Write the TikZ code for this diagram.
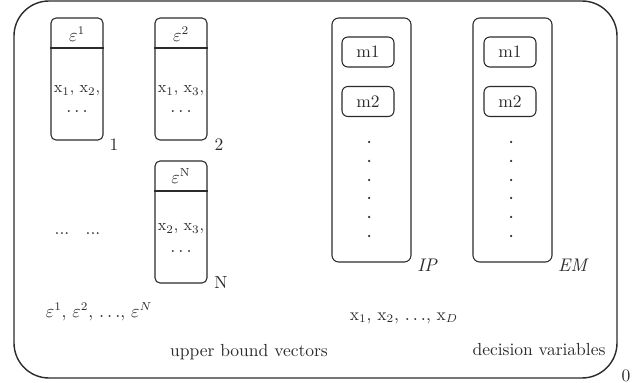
\documentclass[tikz,border=0pt]{standalone}
\usepackage{amsmath}
\begin{document}
\definecolor{ink}{HTML}{2B2B2B}
\begin{tikzpicture}[x=0.6pt,y=-0.6pt,
  font=\fontsize{10.5}{12}\selectfont, color=ink,
  outerbox/.style={draw=ink, line width=0.85pt, rounded corners=21pt, inner sep=0pt},
  vecbox/.style={draw=ink, line width=0.65pt, rounded corners=3pt, inner sep=0pt, minimum width=31.2pt, minimum height=73.2pt},
  colbox/.style={draw=ink, line width=0.65pt, rounded corners=4pt, inner sep=0pt, minimum width=47.4pt, minimum height=146.4pt},
  mbox/.style={draw=ink, line width=0.65pt, rounded corners=3.5pt, inner sep=0pt, minimum width=31.2pt, minimum height=18pt},
  divline/.style={draw=ink, line width=0.65pt},
  vdot/.style={fill=ink, circle, inner sep=0pt, minimum size=1.5pt},
  txt/.style={inner sep=0pt},
  intxt/.style={inner sep=0pt, font=\fontsize{9.7}{11}\selectfont}]
\useasboundingbox (0,0) rectangle (635,383);

% outer container
\node[outerbox, minimum width={603*0.6pt}, minimum height={377*0.6pt}] (outer) at (315.5,189.5) {};
\node[txt] (zero) at (626,376) {0};

% vector boxes
\node[vecbox] (b1) at (77,79) {};
\draw[divline] (b1.west |- 0,48) -- (b1.east |- 0,48);
\node[txt] (e1) at (77,34) {$\varepsilon^{1}$};
\node[intxt] (x1) at (77,91) {x$_1$, x$_2$,};
\node[txt] (d1) at (77,112) {$\ldots$};
\node[txt] (l1) at (114,145) {1};

\node[vecbox] (b2) at (181,79) {};
\draw[divline] (b2.west |- 0,48) -- (b2.east |- 0,48);
\node[txt] (e2) at (181,34) {$\varepsilon^{2}$};
\node[intxt] (x2) at (181,91) {x$_1$, x$_3$,};
\node[txt] (d2) at (181,112) {$\ldots$};
\node[txt] (l2) at (219,145) {2};

\node[vecbox, minimum height=73.2pt] (bN) at (181,222) {};
\draw[divline] (bN.west |- 0,191) -- (bN.east |- 0,191);
\node[txt] (eN) at (181,176) {$\varepsilon^{\mathrm{N}}$};
\node[intxt] (xN) at (181,229) {x$_2$, x$_3$,};
\node[txt] (dN) at (181,252) {$\ldots$};
\node[txt] (lN) at (221,283) {N};

\node[txt] (h1) at (62,234) {...};
\node[txt] (h2) at (93,234) {...};

\node[txt] (elist) at (99,312) {$\varepsilon^{1}$, $\varepsilon^{2}$, $\ldots$, $\varepsilon^{N}$};
\node[txt] (ubv) at (249,352) {upper bound vectors};

% IP column
\node[colbox] (ip) at (371.5,140) {};
\node[mbox] (ipm1) at (368,52) {m1};
\node[mbox] (ipm2) at (368,101.5) {m2};
\foreach \yy in {142,161,180,198,217,236} \node[vdot] at (369,\yy) {};
\node[txt] (iplab) at (428,265) {$\mathit{IP}$};

% EM column
\node[colbox] (em) at (512.5,140) {};
\node[mbox] (emm1) at (510,52) {m1};
\node[mbox] (emm2) at (510,101.5) {m2};
\foreach \yy in {142,161,180,198,217,236} \node[vdot] at (511,\yy) {};
\node[txt] (emlab) at (574,265) {$\mathit{EM}$};

\node[txt] (xlist) at (404,318) {x$_1$, x$_2$, $\ldots$, x$_D$};
\node[txt] (dv) at (539,350) {decision variables};
\end{tikzpicture}
\end{document}
